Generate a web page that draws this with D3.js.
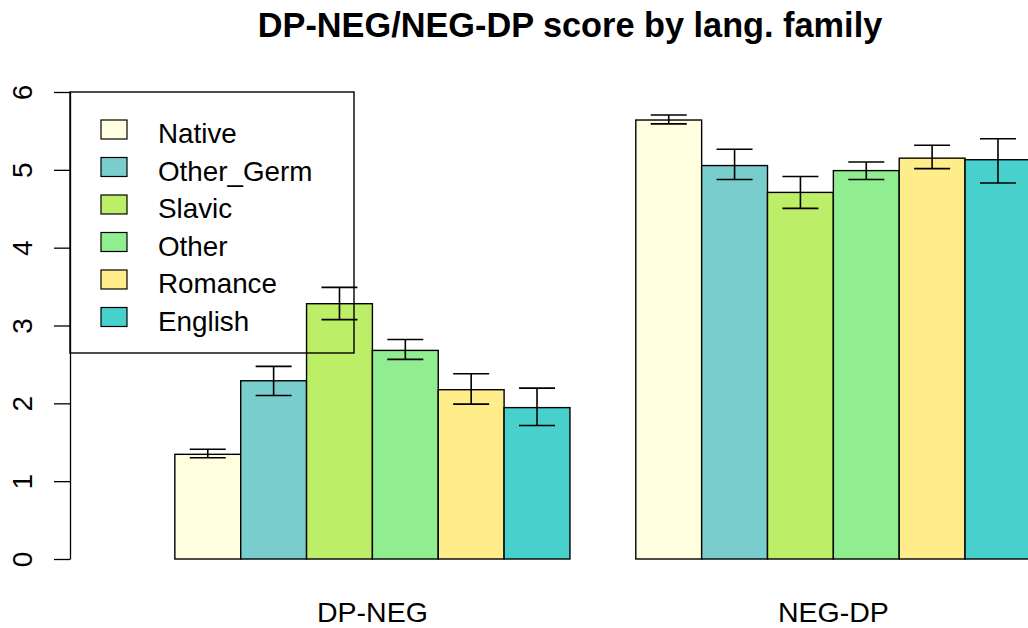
<!DOCTYPE html>
<html>
<head>
<meta charset="utf-8">
<script src="https://cdn.jsdelivr.net/npm/d3@7"></script>
<style>
  body { margin: 0; background: #fff; }
  text { font-family: "Liberation Sans", Arial, sans-serif; }
</style>
</head>
<body>
<svg id="chart"></svg>
<script>
// data
const groups = ["DP-NEG", "NEG-DP"];
const families = ["Native", "Other_Germ", "Slavic", "Other", "Romance", "English"];
const colors = ["#FFFFE0", "#79CDCD", "#BCEE68", "#90EE90", "#FFEC8B", "#48D1CC"];
const dpNeg = [1.345, 2.29, 3.28, 2.68, 2.175, 1.945];
const dpNegLo = [1.30, 2.10, 3.075, 2.565, 1.99, 1.715];
const dpNegHi = [1.41, 2.475, 3.49, 2.82, 2.38, 2.195];
const negDp = [5.64, 5.055, 4.71, 4.99, 5.15, 5.13];
const negDpLo = [5.59, 4.875, 4.505, 4.875, 5.015, 4.83];
const negDpHi = [5.705, 5.265, 4.915, 5.10, 5.315, 5.40];
const yTicks = [0, 1, 2, 3, 4, 5, 6];

const width = 1028;
const height = 628;

const svg = d3.select('svg#chart').attr('width', width).attr('height', height)

const y = d3.scaleLinear().domain([0, 6]).range([559, 92]);
// R barplot units: one unit per bar, one unit gap before each group
const x = d3.scaleLinear().domain([0, 15]).range([109, 109 + 15 * 65.85]);

const rows = [];
groups.forEach((g, gi) => {
  const vals = gi == 0 ? dpNeg : negDp
  const lo = gi == 0 ? dpNegLo : negDpLo
  const hi = gi == 0 ? dpNegHi : negDpHi
  families.forEach((f, i) => {
    rows.push({ group: g, fam: f, color: colors[i], v: vals[i], lo: lo[i], hi: hi[i], u: 1 + gi * 7 + i })
  })
})

// bars
svg.append('g').selectAll('rect').data(rows).enter().append('rect')
  .attr('x', d => x(d.u))
  .attr('y', d => y(d.v))
  .attr('width', d => x(d.u + 1) - x(d.u))
  .attr('height', d => y(0) - y(d.v))
  .attr('fill', d => d.color)
  .attr('stroke', '#000')
  .attr('stroke-width', 1.4)

// error bars
const err = svg.append('g').attr('stroke', '#000').attr('stroke-width', 1.6)
rows.forEach(d => {
  const cx = x(d.u + 0.5)
  err.append('line').attr('x1', cx).attr('x2', cx).attr('y1', y(d.lo)).attr('y2', y(d.hi))
  err.append('line').attr('x1', cx - 18).attr('x2', cx + 18).attr('y1', y(d.lo)).attr('y2', y(d.lo))
  err.append('line').attr('x1', cx - 18).attr('x2', cx + 18).attr('y1', y(d.hi)).attr('y2', y(d.hi))
})

// y axis, R style with rotated labels
const yAxis = svg.append('g').attr('transform', 'translate(70,0)')
  .call(d3.axisLeft(y).tickValues(yTicks).tickSize(16).tickSizeOuter(0))
yAxis.select('.domain').attr('stroke', '#000').attr('stroke-width', 1.3)
yAxis.selectAll('.tick line').attr('stroke', '#000').attr('stroke-width', 1.3)
yAxis.selectAll('.tick text').remove()
yAxis.selectAll('.tick').append('text')
  .attr('transform', 'translate(-38,0) rotate(-90)')
  .attr('text-anchor', 'middle')
  .attr('fill', '#000')
  .attr('font-size', 28)
  .text(d => d)

// group labels
svg.append('g').selectAll('text').data(groups).enter().append('text')
  .attr('x', (d, i) => x(1 + i * 7 + 3))
  .attr('y', 622)
  .attr('text-anchor', 'middle')
  .attr('font-size', 28.5)
  .attr('fill', '#000')
  .text(d => d)

// title
svg.append('text')
  .attr('x', 570)
  .attr('y', 37)
  .attr('text-anchor', 'middle')
  .attr('font-size', 34.3)
  .attr('font-weight', 'bold')
  .attr('fill', '#000')
  .text('DP-NEG/NEG-DP score by lang. family')

// legend (no fill, drawn over the bars)
const legend = svg.append('g')
legend.append('rect')
  .attr('x', 70).attr('y', 92).attr('width', 284).attr('height', 261)
  .attr('fill', 'none').attr('stroke', '#000').attr('stroke-width', 1.4)
const item = legend.selectAll('g.item').data(families).enter().append('g')
  .attr('transform', (d, i) => 'translate(0,' + (130 + i * 37.5) + ')')
item.append('rect')
  .attr('x', 101).attr('y', -10).attr('width', 26).attr('height', 19)
  .attr('fill', (d, i) => colors[i]).attr('stroke', '#000').attr('stroke-width', 1.2)
item.append('text')
  .attr('x', 158).attr('y', 13)
  .attr('font-size', 27.8)
  .attr('fill', '#000')
  .text(d => d)
</script>
</body>
</html>
